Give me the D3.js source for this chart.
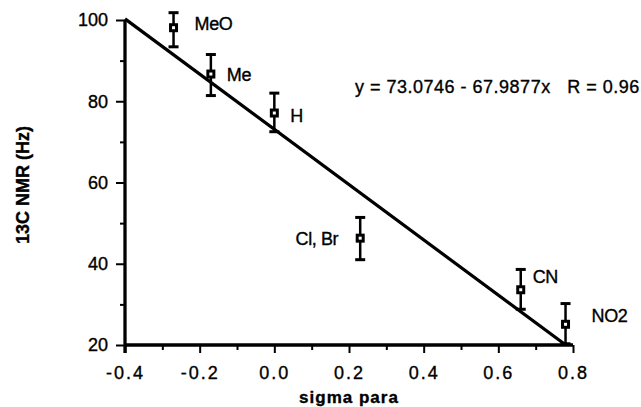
<!DOCTYPE html>
<html>
<head>
<meta charset="utf-8">
<script src="https://cdn.jsdelivr.net/npm/d3@7/dist/d3.min.js"></script>
<style>
  html, body { margin: 0; padding: 0; background: #fff; }
  svg { display: block; }
  text { font-family: "Liberation Sans", Arial, Helvetica, sans-serif; fill: #000; stroke: #000; stroke-width: 0.35px; white-space: pre; }
</style>
</head>
<body>
<svg id="chart" width="641" height="407"></svg>
<script>
// ---- data ----
const substituents = ["MeO", "Me", "H", "Cl, Br", "CN", "NO2"];
const sigmaPara    = [-0.27, -0.17, 0.0, 0.23, 0.66, 0.78];
const nmrHz        = [98.1, 86.7, 77.1, 46.3, 33.6, 25.1];
const errLow       = [93.4, 81.4, 72.5, 41.0, 28.8, 20.3];
const errHigh      = [101.8, 91.5, 82.0, 51.4, 38.6, 30.2];
const xMajorTicks  = [-0.4, -0.2, 0.0, 0.2, 0.4, 0.6, 0.8];
const xTickLabels  = ["-0.4", "-0.2", "0.0", "0.2", "0.4", "0.6", "0.8"];
const xMinorTicks  = [-0.3, -0.1, 0.1, 0.3, 0.5, 0.7];
const yMajorTicks  = [20, 40, 60, 80, 100];
const yMinorTicks  = [30, 50, 70, 90];
const fitIntercept = 73.0746;
const fitSlope     = -67.9877;
const fitLabel     = "y = 73.0746 - 67.9877x   R = 0.96";
const xTitle       = "sigma para";
const yTitle       = "13C NMR (Hz)";

// ---- layout ----
const mLeft = 125, mRight = 573, mTop = 20, mBottom = 345;
const svg = d3.select("#chart");
const x = d3.scaleLinear().domain([-0.4, 0.8]).range([mLeft, mRight]);
const y = d3.scaleLinear().domain([20, 100]).range([mBottom, mTop]);

// label offsets (pixels) for each point label
const labelOffsets = [
  {dx: 21, dy: -4, anchor: "start"},
  {dx: 16, dy: 0, anchor: "start"},
  {dx: 16, dy: 2, anchor: "start"},
  {dx: -22, dy: 0, anchor: "end"},
  {dx: 12, dy: -13, anchor: "start"},
  {dx: 26, dy: -9, anchor: "start"}
];

// ---- axes ----
const yAxis = svg.append("g").attr("transform", `translate(${mLeft},0)`)
  .call(d3.axisLeft(y).tickValues(yMajorTicks).tickSize(9).tickPadding(8).tickFormat(d3.format("d")));
const yMinor = svg.append("g").attr("transform", `translate(${mLeft},0)`)
  .call(d3.axisLeft(y).tickValues(yMinorTicks).tickSize(5).tickFormat(""));
const xAxis = svg.append("g").attr("transform", `translate(0,${mBottom})`)
  .call(d3.axisBottom(x).tickValues(xMajorTicks).tickSize(8).tickPadding(13)
    .tickFormat((d, i) => xTickLabels[i]));
const xMinor = svg.append("g").attr("transform", `translate(0,${mBottom})`)
  .call(d3.axisBottom(x).tickValues(xMinorTicks).tickSize(5).tickFormat(""));

[yAxis, yMinor, xAxis, xMinor].forEach(g => {
  g.select(".domain").attr("stroke", "#000").attr("stroke-width", 2.8)
    .attr("d", g === yAxis || g === yMinor
      ? `M0,${mTop}V${mBottom + 8}` : `M${mLeft},0H${mRight}`);
  g.selectAll(".tick line").attr("stroke", "#000").attr("stroke-width", 2);
  g.selectAll("text").attr("font-size", 18).attr("fill", "#000")
    .style("font-family", '"Liberation Sans", Arial, sans-serif');
});
xAxis.selectAll("text").attr("letter-spacing", 2);

// ---- regression line ----
const xEnd = (20 - fitIntercept) / fitSlope;
const fitLine = d3.line().x(d => x(d)).y(d => y(fitIntercept + fitSlope * d));
svg.append("path").datum([-0.4, xEnd])
  .attr("d", fitLine).attr("fill", "none").attr("stroke", "#000").attr("stroke-width", 3.2);

// ---- error bars ----
const pts = substituents.map((s, i) => ({s, x: sigmaPara[i], y: nmrHz[i], lo: errLow[i], hi: errHigh[i], o: labelOffsets[i]}));
const eb = svg.append("g").attr("stroke", "#000").attr("stroke-width", 2.5);
pts.forEach(p => {
  const cx = x(p.x);
  eb.append("line").attr("x1", cx).attr("x2", cx).attr("y1", y(p.lo)).attr("y2", y(p.hi));
  eb.append("line").attr("x1", cx - 5).attr("x2", cx + 5).attr("y1", y(p.lo)).attr("y2", y(p.lo)).attr("stroke-width", 3);
  eb.append("line").attr("x1", cx - 5).attr("x2", cx + 5).attr("y1", y(p.hi)).attr("y2", y(p.hi)).attr("stroke-width", 3);
});

// ---- markers ----
svg.append("g").selectAll("rect").data(pts).join("rect")
  .attr("x", d => x(d.x) - 3).attr("y", d => y(d.y) - 3)
  .attr("width", 6).attr("height", 6)
  .attr("fill", "#fff").attr("stroke", "#000").attr("stroke-width", 3);

// ---- point labels ----
svg.append("g").selectAll("text").data(pts).join("text")
  .attr("x", d => x(d.x) + d.o.dx).attr("y", d => y(d.y) + d.o.dy)
  .attr("dy", "0.36em").attr("text-anchor", d => d.o.anchor)
  .attr("font-size", 18).attr("letter-spacing", -0.4).text(d => d.s);

// ---- fit label ----
svg.append("text").attr("x", 355).attr("y", 93).attr("font-size", 18)
  .attr("letter-spacing", 0.5).text(fitLabel);

// ---- axis titles ----
svg.append("text").attr("x", (mLeft + mRight) / 2).attr("y", 403).attr("text-anchor", "middle")
  .attr("font-size", 17).attr("font-weight", "bold").attr("letter-spacing", 1).text(xTitle);
svg.append("text").attr("transform", `translate(29,185) rotate(-90)`).attr("text-anchor", "middle")
  .attr("font-size", 18).attr("font-weight", "bold").text(yTitle);
</script>
</body>
</html>
